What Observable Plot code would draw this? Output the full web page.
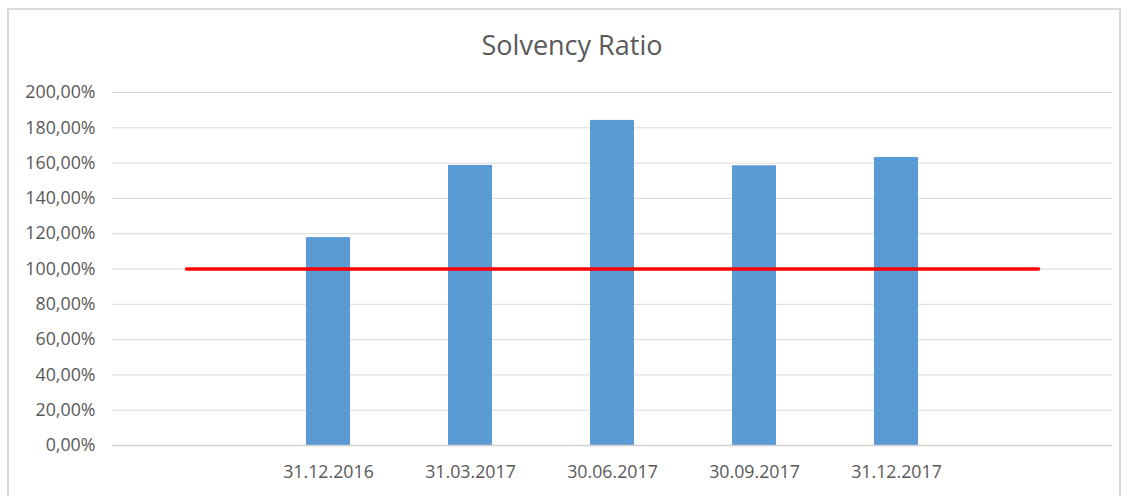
<!DOCTYPE html>
<html>
<head>
<meta charset="utf-8">
<script src="https://cdn.jsdelivr.net/npm/d3@7"></script>
<script src="https://cdn.jsdelivr.net/npm/@observablehq/plot@0.6"></script>
<style>
  html, body { margin: 0; padding: 0; background: #fff; }
  #wrap { position: relative; width: 1132px; height: 496px; overflow: hidden; font-family: "Open Sans", sans-serif; }
  #frame { position: absolute; left: 7px; top: 8px; width: 1114px; height: 520px; border: 2px solid #d9d9d9; box-sizing: border-box; }
  #title { position: absolute; left: 0; width: 1144px; top: 27px; text-align: center; font-size: 27px; color: #595959; line-height: 36px; }
  #chart { position: absolute; left: 0; top: 0; }
</style>
</head>
<body>
<div id="wrap">
  <div id="frame"></div>
  <div id="chart"></div>
  <div id="title">Solvency Ratio</div>
</div>
<script>
const slots = ["_start", "31.12.2016", "31.03.2017", "30.06.2017", "30.09.2017", "31.12.2017", "_end"];
const dates = ["31.12.2016", "31.03.2017", "30.06.2017", "30.09.2017", "31.12.2017"];
const ratios = [117.8, 158.7, 184.2, 158.5, 163.2];
const threshold = 100;
const yTicks = [0, 20, 40, 60, 80, 100, 120, 140, 160, 180, 200];

const bars = dates.map((d, i) => ({date: d, value: ratios[i]}));
const limit = slots.map(s => ({slot: s, value: threshold}));

const plot = Plot.plot({
  width: 1132,
  height: 496,
  marginLeft: 112,
  marginRight: 20,
  marginTop: 92,
  marginBottom: 51,
  style: {fontFamily: "'Open Sans', sans-serif", fontSize: "17.8px", color: "#595959", background: "transparent"},
  x: {domain: slots, paddingInner: 0.69, paddingOuter: 0.345, tickSize: 0, tickPadding: 20, tickFormat: d => d.startsWith("_") ? "" : d, label: null},
  y: {domain: [0, 200], ticks: yTicks, tickSize: 0, tickPadding: 17, tickFormat: d => d.toFixed(2).replace(".", ",") + "%", label: null},
  marks: [
    Plot.gridY(yTicks, {stroke: "#d9d9d9", strokeOpacity: 1, strokeWidth: 1}),
    Plot.barY(bars, {x: "date", y: "value", fill: "#5b9bd5"}),
    Plot.ruleY([0], {stroke: "#d0d0d0", strokeWidth: 1.5}),
    Plot.line(limit, {x: "slot", y: "value", stroke: "#ff0000", strokeWidth: 3.5})
  ]
});
document.getElementById("chart").appendChild(plot);
</script>
</body>
</html>
